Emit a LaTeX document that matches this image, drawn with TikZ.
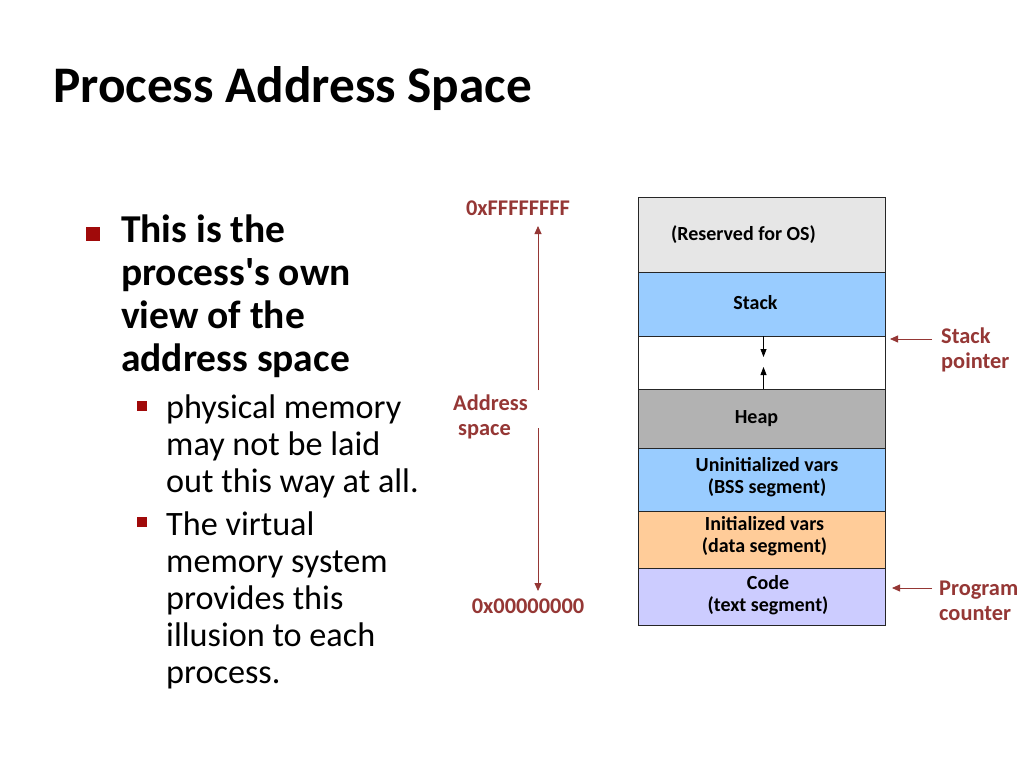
\documentclass[tikz,border=0pt]{standalone}
\usepackage{fontspec}
\setmainfont{Carlito}
\usetikzlibrary{positioning,arrows.meta}
\definecolor{addrred}{RGB}{149,55,53}
\definecolor{bulred}{RGB}{160,10,10}
\definecolor{osgray}{RGB}{230,230,230}
\definecolor{heapgray}{RGB}{178,178,178}
\definecolor{segblue}{RGB}{153,204,255}
\definecolor{segorange}{RGB}{255,204,153}
\definecolor{seglav}{RGB}{204,204,255}

\begin{document}
\begin{tikzpicture}
    [x=1pt,y=-1pt,node distance=0pt,
     seg/.style={draw=black!85,line width=0.8pt,minimum width=247pt,inner sep=0pt,outer sep=0pt,
                 align=center,font=\bfseries\fontsize{20}{22}\selectfont},
     redlbl/.style={text=addrred,inner sep=0pt,font=\bfseries\fontsize{22.4}{25}\selectfont},
     redarr/.style={draw=addrred,line width=0.8pt,-{Triangle[length=8pt,width=7pt]}},
     blkarr/.style={draw=black,line width=0.8pt,-{Triangle[length=8pt,width=6pt]}},
     bul/.style={fill=bulred,inner sep=0pt}]
    \useasboundingbox[fill=white] (0,0) rectangle (1024,768);
    \node[anchor=base west,inner sep=0pt,font=\bfseries\fontsize{51.3}{60}\selectfont] (title) at (53,102) {Process Address Space};

    \node[bul,minimum size=14pt] (b1) at (93,234) {};
    \node[anchor=base west,align=left,inner sep=0pt,font=\bfseries\fontsize{39.5}{43}\selectfont] (main) at (121,371)
        {This is the\\process\textquotesingle s own\\view of the\\address space};
    \node[bul,minimum size=10pt] (b2) at (142,406) {};
    \node[anchor=base west,align=left,inner sep=0pt,font=\fontsize{34.2}{37}\selectfont] (sub1) at (166,492)
        {physical memory\\may not be laid\\out this way at all.};
    \node[bul,minimum size=10pt] (b3) at (142,522) {};
    \node[anchor=base west,align=left,inner sep=0pt,font=\fontsize{34.2}{37}\selectfont] (sub2) at (166,683)
        {The virtual\\memory system\\provides this\\illusion to each\\process.};

    \node[seg,fill=osgray,minimum height=75pt,anchor=north west] (os) at (638,197) {(Reserved for OS)\hspace{36pt}};
    \node[seg,fill=segblue,minimum height=64pt] (stack) [below=of os] {\raisebox{3pt}{Stack}\hspace{12pt}};
    \node[seg,fill=white,minimum height=53pt] (gap) [below=of stack] {};
    \node[seg,fill=heapgray,minimum height=59pt] (heap) [below=of gap] {Heap\hspace{10pt}};
    \node[seg,fill=segblue,minimum height=63pt] (bss) [below=of heap]
        {\hspace*{11pt}Uninitialized vars\\\hspace*{11pt}(BSS segment)\\[-14pt]};
    \node[seg,fill=segorange,minimum height=57pt] (data) [below=of bss]
        {\hspace*{6pt}Initialized vars\\\hspace*{6pt}(data segment)\\[-12pt]};
    \node[seg,fill=seglav,minimum height=57pt] (code) [below=of data]
        {\hspace*{13pt}Code\\\hspace*{13pt}(text segment)\\[-16pt]};

    \draw[blkarr] ([xshift=2pt]stack.south) -- ([xshift=2pt,yshift=-21pt]stack.south);
    \draw[blkarr] ([xshift=2pt]heap.north) -- ([xshift=2pt,yshift=22pt]heap.north);

    \node[redlbl] (hi) at (518,208) {0xFFFFFFFF};
    \node[redlbl] (lo) at (528,606) {0x00000000};
    \node[redlbl,anchor=base west,align=left] (addr) at (453,435) {Address\\\hspace{5pt}space};
    \coordinate (atop) at (538,226);
    \coordinate (agap1) at (538,390);
    \coordinate (agap2) at (538,428);
    \coordinate (abot) at (538,591);
    \draw[redarr] (agap1) -- (atop);
    \draw[redarr] (agap2) -- (abot);

    \node[redlbl,anchor=base west,align=left] (sp) at (941,368) {Stack\\pointer};
    \node[redlbl,anchor=base west,align=left] (pc) at (939,620) {Program\\counter};
    \coordinate (sptail) at (932,339);
    \coordinate (pctail) at (932,588);
    \draw[redarr] (sptail) -- ([xshift=5pt,yshift=-3pt]gap.north east);
    \draw[redarr] (pctail) -- ([xshift=7pt,yshift=-20pt]code.north east);
\end{tikzpicture}
\end{document}
